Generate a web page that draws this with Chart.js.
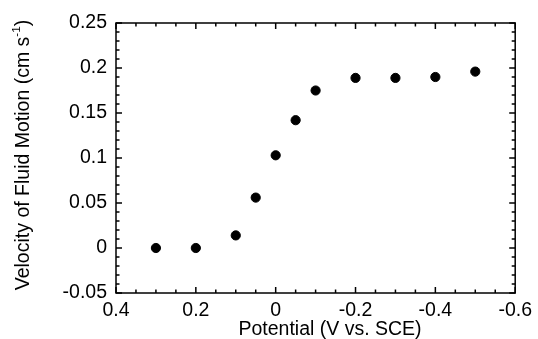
<!DOCTYPE html>
<html>
<head>
<meta charset="utf-8">
<script src="https://cdn.jsdelivr.net/npm/chart.js@4/dist/chart.umd.min.js"></script>
<style>
  html, body { margin: 0; padding: 0; background: #fff; }
  #wrap { width: 538px; height: 339px; }
</style>
</head>
<body>
<div id="wrap"><canvas id="plot" width="538" height="339"></canvas></div>
<script>
// potential (V vs. SCE) and measured fluid velocity (cm/s)
const potentials = [0.3, 0.2, 0.1, 0.05, 0, -0.05, -0.1, -0.2, -0.3, -0.4, -0.5];
const velocities = [0.0, 0.0, 0.014, 0.056, 0.103, 0.142, 0.175, 0.189, 0.189, 0.190, 0.196];

const xTicks = [0.4, 0.2, 0, -0.2, -0.4, -0.6];
const yTicks = [-0.05, 0, 0.05, 0.1, 0.15, 0.2, 0.25];

const xTitle = 'Potential (V vs. SCE)';
const yTitle = 'Velocity of Fluid Motion (cm s';

const fontFamily = '"Liberation Sans", Arial, Helvetica, sans-serif';
const fontSize = 19.5;

const fmt = v => String(parseFloat(v.toFixed(2)));

// frame, inward ticks on all four sides, and the axis titles
const framePlugin = {
  id: 'frame',
  afterDraw(chart) {
    const ctx = chart.ctx;
    const a = chart.chartArea;
    const xs = chart.scales.x, ys = chart.scales.y;
    ctx.save();
    ctx.strokeStyle = '#000';
    ctx.lineWidth = 1.5;
    ctx.strokeRect(a.left, a.top, a.right - a.left, a.bottom - a.top);

    ctx.beginPath();
    for (let i = 0; i <= 20; i++) {
      const v = -0.6 + i * 0.05;
      const px = xs.getPixelForValue(v);
      const len = (i % 4 === 0) ? 6 : 3.5;
      ctx.moveTo(px, a.bottom); ctx.lineTo(px, a.bottom - len);
      ctx.moveTo(px, a.top); ctx.lineTo(px, a.top + len);
    }
    for (let i = 0; i <= 30; i++) {
      const v = -0.05 + i * 0.01;
      const py = ys.getPixelForValue(v);
      const len = (i % 5 === 0) ? 6 : 3.5;
      ctx.moveTo(a.left, py); ctx.lineTo(a.left + len, py);
      ctx.moveTo(a.right, py); ctx.lineTo(a.right - len, py);
    }
    ctx.stroke();

    const bigFont = fontSize + 'px ' + fontFamily;
    const smallFont = (fontSize * 0.6) + 'px ' + fontFamily;
    ctx.fillStyle = '#000';
    ctx.textBaseline = 'middle';

    // x axis title, sits a bit right of centre in the original
    ctx.font = bigFont;
    ctx.textAlign = 'center';
    ctx.fillText(xTitle, 330, 330);

    // y axis title with superscript -1
    ctx.translate(24, (a.top + a.bottom) / 2 - 3);
    ctx.rotate(-Math.PI / 2);
    const sup = '-1';
    const tail = ')';
    ctx.font = bigFont;
    const w1 = ctx.measureText(yTitle).width;
    const w3 = ctx.measureText(tail).width;
    ctx.font = smallFont;
    const w2 = ctx.measureText(sup).width;
    const x0 = -(w1 + w2 + w3) / 2;
    ctx.textAlign = 'left';
    ctx.font = bigFont;
    ctx.fillText(yTitle, x0, 0);
    ctx.font = smallFont;
    ctx.fillText(sup, x0 + w1, -fontSize * 0.35);
    ctx.font = bigFont;
    ctx.fillText(tail, x0 + w1 + w2, 0);
    ctx.restore();
  }
};

new Chart(document.getElementById('plot'), {
  type: 'scatter',
  data: {
    datasets: [{
      data: potentials.map((p, i) => ({ x: p, y: velocities[i] })),
      backgroundColor: '#000',
      borderColor: '#000',
      pointRadius: 4.6,
      pointHoverRadius: 4.6
    }]
  },
  options: {
    responsive: false,
    animation: false,
    events: [],
    layout: { padding: { left: 0, right: 17, top: 23, bottom: 0 } },
    plugins: { legend: { display: false }, tooltip: { enabled: false } },
    scales: {
      x: {
        type: 'linear',
        reverse: true,
        min: -0.6,
        max: 0.4,
        afterBuildTicks: s => { s.ticks = xTicks.map(v => ({ value: v })); },
        afterFit: s => { s.height = 46; },
        grid: { display: false, drawTicks: false },
        border: { display: false },
        ticks: {
          color: '#000',
          padding: 6,
          maxRotation: 0,
          font: { family: fontFamily, size: fontSize },
          callback: v => fmt(v)
        }
      },
      y: {
        type: 'linear',
        min: -0.05,
        max: 0.25,
        afterBuildTicks: s => { s.ticks = yTicks.map(v => ({ value: v })); },
        afterFit: s => { s.width = 116; },
        grid: { display: false, drawTicks: false },
        border: { display: false },
        ticks: {
          color: '#000',
          padding: 9,
          font: { family: fontFamily, size: fontSize },
          callback: v => fmt(v)
        }
      }
    }
  },
  plugins: [framePlugin]
});
</script>
</body>
</html>
